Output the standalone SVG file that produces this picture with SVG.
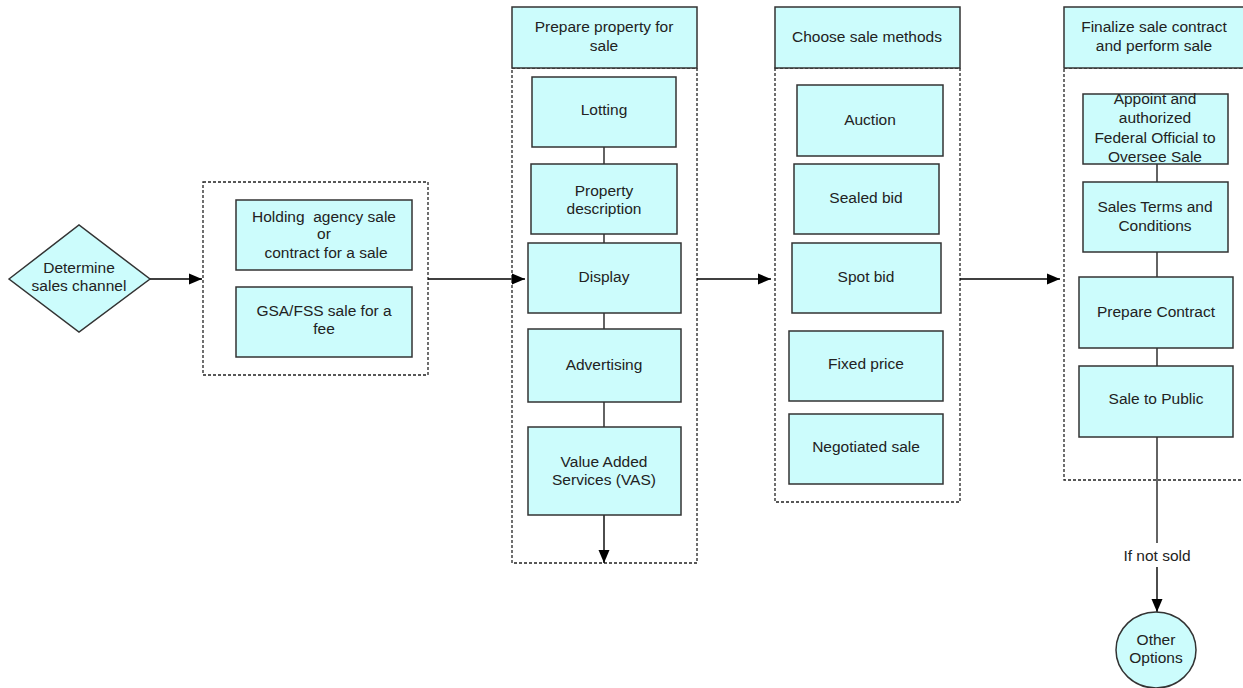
<svg xmlns="http://www.w3.org/2000/svg" width="1243" height="688" viewBox="0 0 1243 688">
  <defs>
    <marker id="arrow" markerWidth="14" markerHeight="12" refX="13" refY="6" orient="auto" markerUnits="userSpaceOnUse">
      <path d="M0,0.5 L13,6 L0,11.5 Z" fill="#000"/>
    </marker>
    <style>
      .box { fill: #ccfcfc; stroke: #333; stroke-width: 1.5; }
      .group { fill: none; stroke: #222; stroke-width: 1.3; stroke-dasharray: 3 2; }
      .link { fill: none; stroke: #222; stroke-width: 1.4; }
      .flow { fill: none; stroke: #000; stroke-width: 1.4; marker-end: url(#arrow); }
      text { font-family: "Liberation Sans", Arial, sans-serif; font-size: 15.5px; fill: #222; text-anchor: middle; }
    </style>
  </defs>
  <rect width="1243" height="688" fill="#fff"/>

  <!-- dashed group containers -->
  <g id="containers">
    <rect class="group" x="203" y="182" width="225" height="193"/>
    <rect class="group" x="512" y="68" width="185" height="495"/>
    <rect class="group" x="775" y="68" width="185" height="434"/>
    <rect class="group" x="1064" y="68" width="185" height="412"/>
  </g>

  <!-- connectors -->
  <g id="connectors">
    <line class="flow" x1="150" y1="279" x2="202" y2="279"/>
    <line class="flow" x1="428" y1="279" x2="525" y2="279"/>
    <line class="flow" x1="697" y1="279" x2="771" y2="279"/>
    <line class="flow" x1="960" y1="279" x2="1060" y2="279"/>
    <line class="link" x1="604" y1="147" x2="604" y2="164"/>
    <line class="link" x1="604" y1="234" x2="604" y2="243"/>
    <line class="link" x1="604" y1="313" x2="604" y2="329"/>
    <line class="link" x1="604" y1="402" x2="604" y2="427"/>
    <line class="flow" x1="604" y1="515" x2="604" y2="563"/>
    <line class="link" x1="1157" y1="164" x2="1157" y2="182"/>
    <line class="link" x1="1157" y1="252" x2="1157" y2="277"/>
    <line class="link" x1="1157" y1="348" x2="1157" y2="366"/>
    <line class="link" x1="1157" y1="437" x2="1157" y2="543"/>
    <line class="flow" x1="1157" y1="567" x2="1157" y2="612"/>
    <text x="1157" y="561">If not sold</text>
  </g>

  <!-- start decision -->
  <g id="determine-channel">
    <polygon class="box" points="9,279 79,225 150,279 79,332"/>
    <text x="79" y="273">Determine</text>
    <text x="79" y="291">sales channel</text>
  </g>

  <!-- sales channel options -->
  <g id="holding-agency">
    <rect class="box" x="236" y="200" width="176" height="70"/>
    <text x="324" y="222" xml:space="preserve">Holding  agency sale</text>
    <text x="324" y="239">or</text>
    <text x="326" y="258">contract for a sale</text>
  </g>
  <g id="gsa-fss">
    <rect class="box" x="236" y="287" width="176" height="70"/>
    <text x="324" y="316">GSA/FSS sale for a</text>
    <text x="324" y="334">fee</text>
  </g>

  <!-- prepare property column -->
  <g id="prepare-header">
    <rect class="box" x="512" y="7" width="185" height="61"/>
    <text x="604" y="32">Prepare property for</text>
    <text x="604" y="51">sale</text>
  </g>
  <g id="lotting">
    <rect class="box" x="532" y="77" width="144" height="70"/>
    <text x="604" y="115">Lotting</text>
  </g>
  <g id="property-description">
    <rect class="box" x="531" y="164" width="146" height="70"/>
    <text x="604" y="196">Property</text>
    <text x="604" y="214">description</text>
  </g>
  <g id="display">
    <rect class="box" x="528" y="243" width="153" height="70"/>
    <text x="604" y="282">Display</text>
  </g>
  <g id="advertising">
    <rect class="box" x="528" y="329" width="153" height="73"/>
    <text x="604" y="370">Advertising</text>
  </g>
  <g id="vas">
    <rect class="box" x="528" y="427" width="153" height="88"/>
    <text x="604" y="467">Value Added</text>
    <text x="604" y="485">Services (VAS)</text>
  </g>

  <!-- sale methods column -->
  <g id="methods-header">
    <rect class="box" x="775" y="7" width="185" height="61"/>
    <text x="867" y="42">Choose sale methods</text>
  </g>
  <g id="auction">
    <rect class="box" x="797" y="85" width="146" height="71"/>
    <text x="870" y="125">Auction</text>
  </g>
  <g id="sealed-bid">
    <rect class="box" x="794" y="164" width="145" height="70"/>
    <text x="866" y="203">Sealed bid</text>
  </g>
  <g id="spot-bid">
    <rect class="box" x="792" y="243" width="149" height="70"/>
    <text x="866" y="282">Spot bid</text>
  </g>
  <g id="fixed-price">
    <rect class="box" x="789" y="331" width="154" height="70"/>
    <text x="866" y="369">Fixed price</text>
  </g>
  <g id="negotiated-sale">
    <rect class="box" x="789" y="414" width="154" height="70"/>
    <text x="866" y="452">Negotiated sale</text>
  </g>

  <!-- finalize column -->
  <g id="finalize-header">
    <rect class="box" x="1064" y="7" width="185" height="61"/>
    <text x="1154" y="32">Finalize sale contract</text>
    <text x="1154" y="51">and perform sale</text>
  </g>
  <g id="appoint-official">
    <rect class="box" x="1083" y="94" width="145" height="70"/>
    <text x="1155" y="104">Appoint and</text>
    <text x="1155" y="123">authorized</text>
    <text x="1155" y="143">Federal Official to</text>
    <text x="1155" y="162">Oversee Sale</text>
  </g>
  <g id="sales-terms">
    <rect class="box" x="1083" y="182" width="145" height="70"/>
    <text x="1155" y="212">Sales Terms and</text>
    <text x="1155" y="231">Conditions</text>
  </g>
  <g id="prepare-contract">
    <rect class="box" x="1079" y="277" width="154" height="71"/>
    <text x="1156" y="317">Prepare Contract</text>
  </g>
  <g id="sale-to-public">
    <rect class="box" x="1079" y="366" width="154" height="71"/>
    <text x="1156" y="404">Sale to Public</text>
  </g>
  <g id="other-options">
    <ellipse class="box" cx="1156" cy="650" rx="40" ry="38"/>
    <text x="1156" y="645">Other</text>
    <text x="1156" y="663">Options</text>
  </g>
</svg>
